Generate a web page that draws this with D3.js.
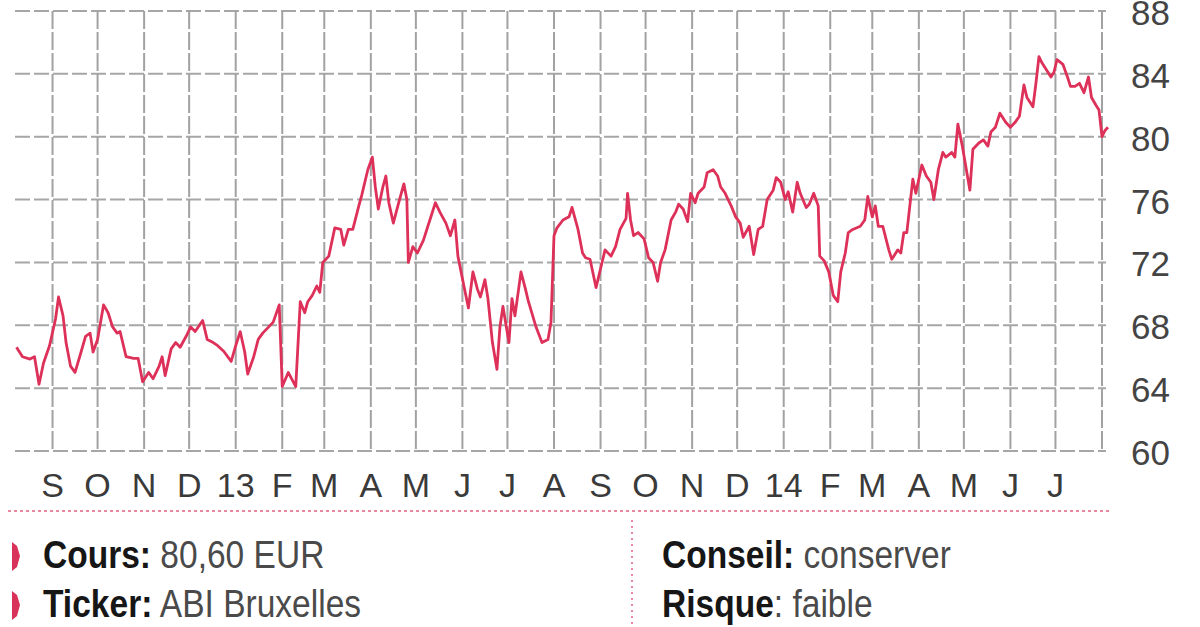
<!DOCTYPE html>
<html><head><meta charset="utf-8">
<script src="https://cdn.jsdelivr.net/npm/d3@7"></script>
<style>html,body{margin:0;padding:0;background:#fff;overflow:hidden}svg{display:block}</style>
</head><body>
<svg id="c" width="1200" height="627"></svg>
<script>
const dates = ["2012-08-08","2012-08-12","2012-08-17","2012-08-20","2012-08-23","2012-08-26","2012-08-30","2012-09-03","2012-09-05","2012-09-08","2012-09-10","2012-09-13","2012-09-16","2012-09-20","2012-09-23","2012-09-26","2012-09-28","2012-10-01","2012-10-05","2012-10-08","2012-10-11","2012-10-14","2012-10-16","2012-10-20","2012-10-25","2012-10-28","2012-10-31","2012-11-04","2012-11-07","2012-11-11","2012-11-13","2012-11-15","2012-11-19","2012-11-22","2012-11-25","2012-11-29","2012-12-02","2012-12-05","2012-12-10","2012-12-13","2012-12-17","2012-12-20","2012-12-24","2012-12-29","2013-01-01","2013-01-04","2013-01-07","2013-01-09","2013-01-13","2013-01-16","2013-01-19","2013-01-23","2013-01-26","2013-01-30","2013-02-01","2013-02-05","2013-02-10","2013-02-13","2013-02-16","2013-02-18","2013-02-21","2013-02-24","2013-02-26","2013-02-28","2013-03-04","2013-03-08","2013-03-12","2013-03-14","2013-03-17","2013-03-20","2013-03-24","2013-03-26","2013-03-30","2013-04-02","2013-04-04","2013-04-06","2013-04-09","2013-04-11","2013-04-13","2013-04-16","2013-04-19","2013-04-23","2013-04-25","2013-04-26","2013-04-29","2013-05-02","2013-05-06","2013-05-09","2013-05-14","2013-05-17","2013-05-21","2013-05-24","2013-05-27","2013-05-29","2013-06-02","2013-06-05","2013-06-08","2013-06-11","2013-06-13","2013-06-16","2013-06-18","2013-06-21","2013-06-24","2013-06-26","2013-06-28","2013-07-02","2013-07-04","2013-07-06","2013-07-10","2013-07-13","2013-07-15","2013-07-20","2013-07-24","2013-07-28","2013-07-30","2013-08-01","2013-08-03","2013-08-07","2013-08-11","2013-08-13","2013-08-17","2013-08-20","2013-08-22","2013-08-25","2013-08-29","2013-09-01","2013-09-04","2013-09-08","2013-09-11","2013-09-14","2013-09-18","2013-09-19","2013-09-21","2013-09-23","2013-09-26","2013-09-30","2013-10-03","2013-10-06","2013-10-09","2013-10-11","2013-10-14","2013-10-18","2013-10-21","2013-10-23","2013-10-26","2013-10-29","2013-10-31","2013-11-03","2013-11-05","2013-11-09","2013-11-11","2013-11-15","2013-11-18","2013-11-20","2013-11-23","2013-11-27","2013-11-30","2013-12-03","2013-12-05","2013-12-09","2013-12-12","2013-12-15","2013-12-18","2013-12-21","2013-12-25","2013-12-27","2013-12-30","2014-01-02","2014-01-04","2014-01-07","2014-01-10","2014-01-12","2014-01-16","2014-01-18","2014-01-21","2014-01-24","2014-01-25","2014-01-28","2014-01-31","2014-02-03","2014-02-06","2014-02-08","2014-02-11","2014-02-13","2014-02-16","2014-02-21","2014-02-24","2014-02-26","2014-03-01","2014-03-03","2014-03-05","2014-03-08","2014-03-12","2014-03-14","2014-03-18","2014-03-20","2014-03-22","2014-03-24","2014-03-28","2014-03-30","2014-04-01","2014-04-03","2014-04-06","2014-04-09","2014-04-11","2014-04-14","2014-04-17","2014-04-19","2014-04-23","2014-04-25","2014-04-27","2014-04-30","2014-05-03","2014-05-05","2014-05-07","2014-05-11","2014-05-14","2014-05-17","2014-05-19","2014-05-22","2014-05-25","2014-05-29","2014-06-01","2014-06-04","2014-06-07","2014-06-10","2014-06-12","2014-06-16","2014-06-18","2014-06-20","2014-06-22","2014-06-26","2014-06-28","2014-06-30","2014-07-02","2014-07-06","2014-07-09","2014-07-11","2014-07-14","2014-07-17","2014-07-20","2014-07-23","2014-07-25","2014-07-28","2014-07-30","2014-08-01","2014-08-03","2014-08-05"];
const prices = [66.6,66.0,65.85,66.0,64.25,65.6,66.7,68.4,69.8,68.6,66.9,65.4,65.0,66.3,67.3,67.5,66.3,67.1,69.3,68.8,67.9,67.5,67.6,66.0,65.9,65.9,64.4,65.0,64.6,65.4,66.0,64.8,66.5,66.9,66.6,67.3,67.9,67.6,68.3,67.1,66.9,66.7,66.35,65.7,66.7,67.6,66.3,64.9,66.0,67.1,67.5,67.9,68.2,69.3,64.1,65.0,64.1,69.5,68.8,69.5,69.9,70.5,70.1,72.0,72.4,74.2,74.1,73.1,74.1,74.1,75.6,76.3,77.9,78.7,76.8,75.4,76.8,77.5,75.8,74.5,75.6,77.0,76.0,72.0,73.0,72.6,73.4,74.3,75.8,75.2,74.5,73.7,74.7,72.4,70.5,69.1,71.4,70.3,69.8,70.9,69.7,66.9,65.2,67.9,69.2,66.9,69.7,68.6,71.4,70.3,69.5,67.9,66.9,67.1,68.2,73.7,74.2,74.7,74.9,75.5,74.1,72.6,72.3,72.2,70.4,71.6,72.8,72.4,73.0,74.1,74.8,76.4,74.7,73.7,73.9,73.5,72.3,72.0,70.8,72.0,72.8,74.7,75.2,75.7,75.4,74.6,76.4,75.8,76.4,76.8,77.7,77.9,77.5,76.8,76.4,75.6,74.9,74.5,73.6,74.3,72.5,74.1,74.3,76.0,76.6,77.4,77.1,76.0,76.5,75.2,77.1,76.4,75.5,75.7,76.4,75.6,72.4,72.1,71.4,69.9,69.5,71.4,72.6,73.9,74.1,74.3,74.7,76.2,74.9,75.6,74.3,74.3,72.8,72.2,72.8,72.6,73.9,73.9,77.3,76.4,77.3,78.2,77.5,77.1,76.0,77.9,79.0,78.7,79.0,78.7,80.8,79.4,77.7,76.6,79.2,79.6,79.8,79.4,80.3,80.6,81.5,80.9,80.6,80.9,81.3,83.3,82.5,81.9,83.4,85.1,84.7,84.1,83.8,84.1,84.9,84.6,83.8,83.2,83.2,83.4,82.8,83.8,82.5,82.0,81.7,80.0,80.4,80.6];
const monthLabels = ["S","O","N","D","13","F","M","A","M","J","J","A","S","O","N","D","14","F","M","A","M","J","J"];
const yTicks = [60,64,68,72,76,80,84,88];
const infoLeft = [["Cours:", " 80,60 EUR"], ["Ticker:", " ABI Bruxelles"]];
const infoRight = [["Conseil:", " conserver"], ["Risque", ": faible"]];

const parse = d3.timeParse("%Y-%m-%d");
const data = dates.map((d,i)=>({date: parse(d), v: prices[i]}));
const svg = d3.select("#c");
const x = d3.scaleTime().domain([new Date(2012,7,7), new Date(2014,7,1)]).range([15,1102]);
const y = d3.scaleLinear().domain([60,88]).range([451,11]);
const font = "'Liberation Sans', Arial, sans-serif";

const grid = svg.append("g");
grid.selectAll("line.h").data(yTicks).join("line")
  .attr("x1",15).attr("x2",1106).attr("y1",d=>y(d)).attr("y2",d=>y(d))
  .attr("stroke","#a6a6a6").attr("stroke-width",2).attr("stroke-dasharray","15 4");
const months = d3.timeMonth.range(new Date(2012,8,1), new Date(2014,7,2));
grid.selectAll("line.v").data(months).join("line")
  .attr("x1",d=>x(d)).attr("x2",d=>x(d)).attr("y1",y(88)).attr("y2",y(60))
  .attr("stroke","#a2a2a2").attr("stroke-width",2).attr("stroke-dasharray","18 3");

svg.append("g").selectAll("text").data(yTicks).join("text")
  .attr("x",1131).attr("y",d=>y(d)+14)
  .attr("font-family",font).attr("font-size",35)
  .attr("fill","#444").text(d=>d);

svg.append("g").selectAll("text").data(monthLabels).join("text")
  .attr("x",(d,i)=>x(months[i])).attr("y",497)
  .attr("text-anchor","middle")
  .attr("font-family",font).attr("font-size",34)
  .attr("fill","#3a3a3a").text(d=>d);

const line = d3.line().x(d=>x(d.date)).y(d=>y(d.v)).curve(d3.curveLinear);
svg.append("path").datum(data).attr("d",line)
  .attr("fill","none").attr("stroke","#de3159").attr("stroke-width",2.8)
  .attr("stroke-linejoin","round");

// info section
svg.append("line").attr("x1",8).attr("x2",1110).attr("y1",511).attr("y2",511)
  .attr("stroke","#e8879f").attr("stroke-width",2).attr("stroke-dasharray","3 3");
svg.append("line").attr("x1",632).attr("x2",632).attr("y1",520).attr("y2",627)
  .attr("stroke","#e8879f").attr("stroke-width",2).attr("stroke-dasharray","2 4");

const baseY = [568,617];
function info(list, x0, marks){
  list.forEach((p,i)=>{
    const t = svg.append("text").attr("transform",`translate(${x0},${baseY[i]}) scale(0.86,1)`)
      .attr("font-family",font).attr("font-size",39).attr("xml:space","preserve")
      .style("white-space","pre");
    t.append("tspan").attr("font-weight","bold").attr("fill","#161616").text(p[0]);
    t.append("tspan").attr("fill","#4a4a4a").text(p[1]);
    if(marks){
      const top = baseY[i]-26;
      svg.append("path").attr("d",`M12,${top} L17,${top+4} L20,${top+14} L17,${top+25} L12,${top+29} Z`)
        .attr("fill","#d9325a");
    }
  });
}
info(infoLeft, 43, true);
info(infoRight, 662, false);
</script>
</body></html>
